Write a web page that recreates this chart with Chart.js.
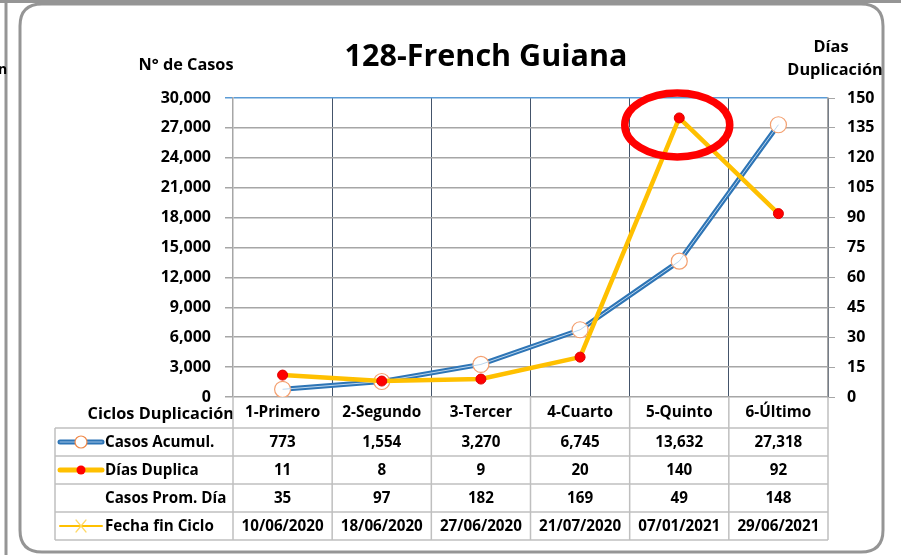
<!DOCTYPE html>
<html><head><meta charset="utf-8">
<script src="https://cdn.jsdelivr.net/npm/chart.js@4.4.1/dist/chart.umd.min.js"></script>
<style>html,body{margin:0;padding:0;background:#fff}#wrap{width:901px;height:555px;position:relative}</style>
</head><body><div id="wrap"><canvas id="c" width="901" height="555"></canvas></div>
<script>
const categories = ['1-Primero','2-Segundo','3-Tercer','4-Cuarto','5-Quinto','6-Último'];
const casosAcumul = [773,1554,3270,6745,13632,27318];
const diasDuplica = [11,8,9,20,140,92];
const casosPromDia = [35,97,182,169,49,148];
const fechaFinCiclo = ['10/06/2020','18/06/2020','27/06/2020','21/07/2020','07/01/2021','29/06/2021'];
const rowLabels = ['Casos Acumul.','Días Duplica','Casos Prom. Día','Fecha fin Ciclo'];
const titleText = '128-French Guiana';
const leftAxisTitle = 'N° de Casos';
const rightAxisTitle = ['Días','Duplicación'];
const headerLabel = 'Ciclos Duplicación';

const FONT = '"Open Sans", "Noto Sans", sans-serif';
const fmt = v => v.toLocaleString('en-US');

function roundRect(ctx,x,y,w,h,r){
  ctx.beginPath();
  ctx.moveTo(x+r,y);ctx.lineTo(x+w-r,y);ctx.quadraticCurveTo(x+w,y,x+w,y+r);
  ctx.lineTo(x+w,y+h-r);ctx.quadraticCurveTo(x+w,y+h,x+w-r,y+h);
  ctx.lineTo(x+r,y+h);ctx.quadraticCurveTo(x,y+h,x,y+h-r);
  ctx.lineTo(x,y+r);ctx.quadraticCurveTo(x,y,x+r,y);ctx.closePath();
}

const framePlugin = {
  id:'frame',
  beforeDraw(chart){
    const ctx = chart.ctx;
    ctx.save();
    ctx.fillStyle='#fff';ctx.fillRect(0,0,chart.width,chart.height);
    ctx.strokeStyle='#959595';ctx.lineWidth=3;
    roundRect(ctx,-40,-40,46,640,18);ctx.stroke();
    ctx.beginPath();ctx.moveTo(0,1.5);ctx.lineTo(901,1.5);ctx.stroke();
    roundRect(ctx,20,4,863,548,22);
    ctx.fillStyle='#fff';ctx.fill();ctx.stroke();
    ctx.fillStyle='#000';ctx.font='bold 14px '+FONT;ctx.textAlign='left';ctx.textBaseline='middle';
    ctx.fillText('n',-2,70);
    ctx.restore();
  },
  afterDraw(chart){
    const ctx = chart.ctx, xs = chart.scales.x, ca = chart.chartArea;
    ctx.save();
    ctx.fillStyle='#000';ctx.textBaseline='middle';
    ctx.font='bold 30.5px '+FONT;ctx.textAlign='center';
    ctx.fillText(titleText,486,57);
    ctx.font='bold 16.3px '+FONT;
    ctx.fillText(leftAxisTitle,186,65);
    ctx.fillText(rightAxisTitle[0],831,47);
    ctx.fillText(rightAxisTitle[1],835,70);
    // table
    const half = (xs.getPixelForValue(1)-xs.getPixelForValue(0))/2;
    const colL = i => xs.getPixelForValue(i)-half;
    const tLeft = 55, tRight = colL(categories.length), rowH = 28, top0 = 428;
    ctx.font='bold 16.3px '+FONT;
    ctx.textAlign='right';
    ctx.fillText(headerLabel, ca.left+1, 414);
    ctx.font='bold 15.3px '+FONT;
    ctx.textAlign='center';
    categories.forEach((c,i)=>ctx.fillText(c, xs.getPixelForValue(i), 413));
    ctx.strokeStyle='#bfbfbf';ctx.lineWidth=1.5;
    for(let r=0;r<=4;r++){ctx.beginPath();ctx.moveTo(tLeft,top0+r*rowH);ctx.lineTo(tRight,top0+r*rowH);ctx.stroke();}
    ctx.beginPath();ctx.moveTo(tLeft,top0);ctx.lineTo(tLeft,top0+4*rowH);ctx.stroke();
    for(let i=0;i<=categories.length;i++){
      ctx.beginPath();ctx.moveTo(colL(i),ca.bottom);ctx.lineTo(colL(i),top0+4*rowH);ctx.stroke();
    }
    const rows=[casosAcumul.map(fmt),diasDuplica.map(fmt),casosPromDia.map(fmt),fechaFinCiclo];
    rows.forEach((row,r)=>{
      const cy = top0+r*rowH+rowH/2+1;
      ctx.fillStyle='#000';ctx.textAlign='left';
      ctx.font='bold 15.2px '+FONT;
      ctx.fillText(rowLabels[r],105,cy);
      ctx.textAlign='center';
      ctx.font='bold 15.2px '+FONT;
      row.forEach((v,i)=>ctx.fillText(v,xs.getPixelForValue(i),cy));
    });
    // legend keys
    let cy = top0+rowH/2;
    ctx.lineCap='round';
    ctx.strokeStyle='#2E75B6';ctx.lineWidth=5;ctx.beginPath();ctx.moveTo(60,cy);ctx.lineTo(102,cy);ctx.stroke();
    ctx.strokeStyle='#9DC3E6';ctx.lineWidth=1;ctx.beginPath();ctx.moveTo(60,cy);ctx.lineTo(102,cy);ctx.stroke();
    ctx.fillStyle='#fff';ctx.strokeStyle='#F08A4B';ctx.lineWidth=1.2;ctx.beginPath();ctx.arc(81,cy,6,0,Math.PI*2);ctx.fill();ctx.stroke();
    cy = top0+rowH*1.5;
    ctx.strokeStyle='#FFC000';ctx.lineWidth=5;ctx.beginPath();ctx.moveTo(60,cy);ctx.lineTo(102,cy);ctx.stroke();
    ctx.fillStyle='#FF0000';ctx.beginPath();ctx.arc(81,cy,4.5,0,Math.PI*2);ctx.fill();
    cy = top0+rowH*3.5;
    ctx.strokeStyle='#FFC000';ctx.lineWidth=2;ctx.beginPath();ctx.moveTo(60,cy);ctx.lineTo(102,cy);ctx.stroke();
    ctx.strokeStyle='#FFD966';ctx.lineWidth=1.2;ctx.beginPath();
    ctx.moveTo(76,cy-6);ctx.lineTo(86,cy+6);ctx.moveTo(86,cy-6);ctx.lineTo(76,cy+6);ctx.stroke();
    // red ellipse highlight around peak
    const pk = chart.getDatasetMeta(2).data[4];
    ctx.strokeStyle='#FF0000';ctx.lineWidth=7.5;
    ctx.beginPath();ctx.ellipse(pk.x-2,pk.y+7,52.5,32,0,0,Math.PI*2);ctx.stroke();
    ctx.restore();
  }
};

const tickFont = {family:FONT, size:16, weight:'bold'};
new Chart(document.getElementById('c'),{
  type:'line',
  data:{
    labels:categories,
    datasets:[
      {label:'Casos Acumul.',data:casosAcumul,yAxisID:'y',borderColor:'#2E75B6',borderWidth:5,
       pointRadius:8,pointBackgroundColor:'#fff',pointBorderColor:'#F4A070',pointBorderWidth:1.2,order:3},
      {label:'_inner',data:casosAcumul,yAxisID:'y',borderColor:'#BDD7EE',borderWidth:1,pointRadius:0,order:2},
      {label:'Días Duplica',data:diasDuplica,yAxisID:'y1',borderColor:'#FFC000',borderWidth:4.5,
       pointRadius:5,pointBackgroundColor:'#FF0000',pointBorderColor:'#E00000',pointBorderWidth:1,order:1}
    ]
  },
  options:{
    responsive:false,animation:false,
    layout:{padding:{left:0,right:0,top:98,bottom:158}},
    plugins:{legend:{display:false},tooltip:{enabled:false},title:{display:false}},
    elements:{line:{tension:0}},
    scales:{
      x:{offset:true,
        grid:{offset:true,color:'#44546A',lineWidth:1,drawTicks:false},
        border:{display:false},
        ticks:{display:false},
        afterFit(s){s.height=0;}
      },
      y:{position:'left',min:0,max:30000,
        ticks:{stepSize:3000,color:'#000',font:tickFont,padding:14,callback:v=>fmt(v)},
        grid:{color:c=>c.tick && c.tick.value===30000?'#5B9BD5':'#A6A6A6',lineWidth:1.5,tickLength:8,drawTicks:true},
        border:{display:true,color:'#A6A6A6',width:1.5},
        afterFit(s){s.width=233;}
      },
      y1:{position:'right',min:0,max:150,
        ticks:{stepSize:15,color:'#000',font:tickFont,padding:12},
        grid:{drawOnChartArea:false,drawTicks:true,tickLength:7,color:'#A6A6A6'},
        border:{display:true,color:'#A6A6A6',width:1.5},
        afterFit(s){s.width=73;}
      }
    }
  },
  plugins:[framePlugin]
});
</script>
</body></html>
